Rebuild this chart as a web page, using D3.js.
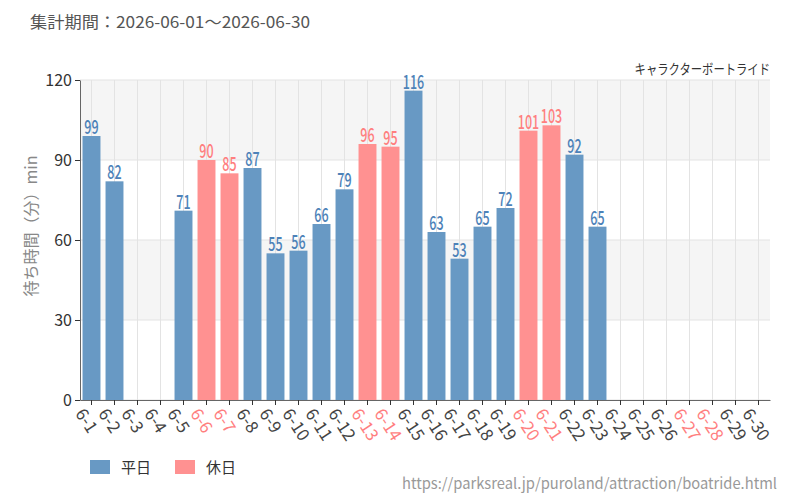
<!DOCTYPE html>
<html>
<head>
<meta charset="utf-8">
<script src="https://cdn.jsdelivr.net/npm/d3@7"></script>
<style>
  body { margin: 0; background: #fff; }
  text { font-family: "Noto Sans CJK JP", "Noto Sans", sans-serif; }
</style>
</head>
<body>
<div id="chart-area"></div>
<script>
let days = d3.range(1, 31).map(d => "6-" + d);
let waits = [99, 82, null, null, 71, 90, 85, 87, 55, 56, 66, 79, 96, 95, 116,
    63, 53, 65, 72, 101, 103, 92, 65, null, null, null, null, null, null, null];
let holidays = ["6-6", "6-7", "6-13", "6-14", "6-20", "6-21", "6-27", "6-28"];
let yTicks = [0, 30, 60, 90, 120];

let margin = {left: 80, right: 30, top: 80, bottom: 100};
let width = 800 - margin.left - margin.right,
    height = 500 - margin.top - margin.bottom;

let blue = "#6899c4", pink = "#ff9191";
let blueText = "#4d82b8", pinkText = "#ff7f7f";

let svg = d3.select("#chart-area")
    .append("svg")
    .attr("width", 800)
    .attr("height", 500);

let g = svg.append("g")
    .attr("transform", `translate(${margin.left},${margin.top})`);

let x = d3.scaleBand().domain(days).range([0, width]).paddingInner(0.22).paddingOuter(0.11);
let y = d3.scaleLinear().domain([0, 120]).range([height, 0]);

// striped background
for (let i = 0; i < yTicks.length - 1; i++) {
    g.append("rect")
        .attr("x", 0)
        .attr("y", y(yTicks[i + 1]))
        .attr("width", width)
        .attr("height", y(yTicks[i]) - y(yTicks[i + 1]))
        .attr("fill", i % 2 === 1 ? "#f5f5f5" : "#fff");
}

// grid
g.selectAll(".hgrid").data(yTicks).enter().append("line")
    .attr("x1", 0).attr("x2", width)
    .attr("y1", d => y(d)).attr("y2", d => y(d))
    .attr("stroke", "#e3e3e3");
g.selectAll(".vgrid").data(days).enter().append("line")
    .attr("x1", d => x(d) + x.bandwidth() / 2).attr("x2", d => x(d) + x.bandwidth() / 2)
    .attr("y1", 0).attr("y2", height)
    .attr("stroke", "#e3e3e3");

let data = days.map((d, i) => ({day: d, v: waits[i], hol: holidays.includes(d)}))
    .filter(d => d.v != null);

g.selectAll(".bar").data(data).enter().append("rect")
    .attr("x", d => x(d.day))
    .attr("y", d => y(d.v))
    .attr("width", x.bandwidth())
    .attr("height", d => height - y(d.v))
    .attr("fill", d => d.hol ? pink : blue);

// condensed value labels
g.selectAll(".lbl").data(data).enter().append("text")
    .attr("transform", d => `translate(${x(d.day) + x.bandwidth() / 2},${y(d.v) - 2}) scale(0.66,1)`)
    .attr("text-anchor", "middle")
    .attr("font-size", "19px")
    .attr("font-weight", 500)
    .attr("fill", d => d.hol ? pinkText : blueText)
    .text(d => d.v);

// axes
let yAxis = g.append("g").call(d3.axisLeft(y).tickValues(yTicks).tickSize(5).tickSizeOuter(0));
yAxis.selectAll("text").attr("font-size", "16px").attr("fill", "#333");
yAxis.select(".domain").attr("stroke", "#666");
yAxis.selectAll(".tick line").attr("stroke", "#333");

let xAxis = g.append("g")
    .attr("transform", `translate(0,${height})`)
    .call(d3.axisBottom(x).tickSize(5).tickSizeOuter(0));
xAxis.select(".domain").attr("stroke", "#666");
xAxis.selectAll(".tick line").attr("stroke", "#333");
xAxis.selectAll("text")
    .attr("font-size", "17px")
    .attr("fill", d => holidays.includes(d) ? pinkText : "#444")
    .attr("text-anchor", "start")
    .attr("dy", "0.35em")
    .attr("transform", "translate(-5,6) rotate(57)");

// axis title
svg.append("text")
    .attr("transform", `translate(37,226) rotate(-90)`)
    .attr("text-anchor", "middle")
    .attr("font-size", "16px")
    .attr("fill", "#888")
    .text("待ち時間（分）min");

svg.append("text")
    .attr("x", 30).attr("y", 28)
    .attr("font-size", "16px")
    .attr("fill", "#555")
    .attr("textLength", 280)
    .attr("lengthAdjust", "spacingAndGlyphs")
    .text("集計期間：2026-06-01～2026-06-30");

svg.append("text")
    .attr("transform", "translate(770,74) scale(0.81,1)")
    .attr("text-anchor", "end")
    .attr("font-size", "14px")
    .attr("fill", "#333")
    .text("キャラクターボートライド");

// legend
let legend = [{name: "平日", color: blue}, {name: "休日", color: pink}];
let lg = svg.selectAll(".legend").data(legend).enter().append("g")
    .attr("transform", (d, i) => `translate(${90 + i * 85},460)`);
lg.append("rect").attr("width", 20).attr("height", 14).attr("fill", d => d.color);
lg.append("text").attr("x", 31).attr("y", 13).attr("font-size", "15px").attr("fill", "#333").text(d => d.name);

svg.append("text")
    .attr("x", 402).attr("y", 489)
    .attr("font-size", "15px")
    .attr("fill", "#999")
    .attr("textLength", 375)
    .attr("lengthAdjust", "spacingAndGlyphs")
    .text("https://parksreal.jp/puroland/attraction/boatride.html");
</script>
</body>
</html>
